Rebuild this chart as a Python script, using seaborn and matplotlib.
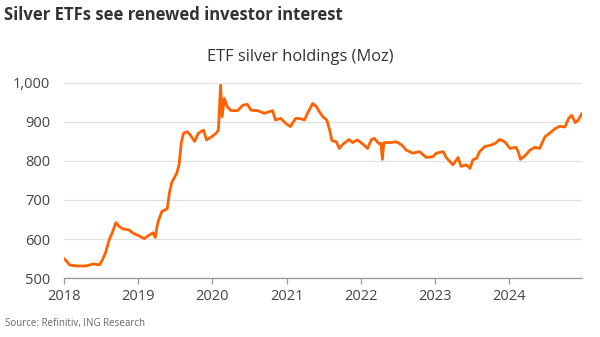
import numpy as np
import pandas as pd
import matplotlib
matplotlib.use("Agg")
import matplotlib.pyplot as plt
import seaborn as sns

# Fractional year and ETF silver holdings (Moz)
years = [2018.00, 2018.03, 2018.08, 2018.16, 2018.30, 2018.39, 2018.48, 2018.52, 2018.56,
         2018.61, 2018.65, 2018.70, 2018.74, 2018.79, 2018.88, 2018.92, 2019.00, 2019.08,
         2019.14, 2019.20, 2019.23, 2019.25, 2019.27, 2019.32, 2019.39, 2019.42, 2019.45,
         2019.52, 2019.55, 2019.58, 2019.61, 2019.66, 2019.70, 2019.76, 2019.81, 2019.88,
         2019.92, 2019.99, 2020.05, 2020.08, 2020.11, 2020.13, 2020.16, 2020.20, 2020.25,
         2020.34, 2020.41, 2020.47, 2020.52, 2020.61, 2020.70, 2020.81, 2020.85, 2020.92,
         2020.99, 2021.05, 2021.12, 2021.17, 2021.24, 2021.28, 2021.35, 2021.40, 2021.44,
         2021.49, 2021.54, 2021.58, 2021.61, 2021.67, 2021.71, 2021.76, 2021.84, 2021.89,
         2021.95, 2022.03, 2022.09, 2022.14, 2022.18, 2022.24, 2022.27, 2022.29, 2022.31,
         2022.39, 2022.48, 2022.55, 2022.61, 2022.70, 2022.79, 2022.88, 2022.97, 2023.02,
         2023.11, 2023.15, 2023.24, 2023.31, 2023.35, 2023.42, 2023.47, 2023.51, 2023.56,
         2023.60, 2023.67, 2023.76, 2023.81, 2023.87, 2023.94, 2024.01, 2024.09, 2024.12,
         2024.15, 2024.21, 2024.28, 2024.35, 2024.41, 2024.48, 2024.55, 2024.62, 2024.68,
         2024.75, 2024.80, 2024.84, 2024.89, 2024.93, 2024.98]
holdings = [550, 544, 533, 531, 531, 536, 534, 548, 565,
            599, 616, 642, 633, 626, 623, 616, 609, 601,
            609, 616, 604, 629, 646, 671, 677, 718, 744,
            769, 790, 846, 871, 875, 867, 850, 871, 879,
            854, 862, 871, 879, 994, 913, 960, 939, 929,
            929, 943, 945, 930, 929, 922, 929, 905, 909,
            896, 888, 909, 909, 905, 922, 947, 940, 926,
            913, 905, 879, 852, 849, 832, 843, 855, 847,
            854, 843, 832, 854, 858, 845, 845, 804, 847,
            847, 849, 841, 828, 820, 824, 809, 811, 820,
            824, 809, 790, 809, 786, 790, 781, 803, 807,
            824, 837, 841, 845, 855, 849, 832, 835, 824,
            804, 813, 828, 835, 832, 862, 872, 883, 889,
            887, 909, 917, 898, 905, 922]
year_ticks = [2018, 2019, 2020, 2021, 2022, 2023, 2024]
y_ticks = [500, 600, 700, 800, 900, 1000]

df = pd.DataFrame({"year": years, "holdings": holdings})

sns.set_theme(style="white")
plt.rcParams["font.family"] = ["Open Sans", "DejaVu Sans"]

fig = plt.figure(figsize=(6.0, 3.37), dpi=100)
ax = fig.add_axes([0.1067, 0.175, 0.8633, 0.579])

sns.lineplot(data=df, x="year", y="holdings", ax=ax, color="#FF6200", linewidth=2.0)

ax.set_xlim(2018, 2024.98)
ax.set_ylim(500, 1000)
ax.set_xticks(year_ticks)
ax.set_xticklabels([str(y) for y in year_ticks])
ax.set_yticks(y_ticks)
ax.set_yticklabels([f"{v:,}" for v in y_ticks])
ax.yaxis.grid(True, color="#E0E0E0", linewidth=0.9)
ax.xaxis.grid(False)
ax.set_axisbelow(True)
for s in ["top", "right", "left"]:
    ax.spines[s].set_visible(False)
ax.spines["bottom"].set_color("#999999")
ax.spines["bottom"].set_linewidth(0.9)
ax.tick_params(axis="x", which="major", bottom=True, length=4, width=0.9,
               color="#999999", labelsize=10.5, labelcolor="#444444", pad=4)
ax.tick_params(axis="y", length=0, labelsize=10.5, labelcolor="#444444", pad=10)
ax.set_xlabel("")
ax.set_ylabel("")

fig.text(0.007, 0.955, "Silver ETFs see renewed investor interest", fontsize=12,
         fontweight="bold", color="#333333", va="center", ha="left")
fig.text(0.5, 0.83, "ETF silver holdings (Moz)", fontsize=11.8, color="#333333",
         va="center", ha="center")
fig.text(0.008, 0.04, "Source: Refinitiv, ING Research", fontsize=7, color="#666666",
         va="center", ha="left")

fig.savefig("out.png", dpi=100)
